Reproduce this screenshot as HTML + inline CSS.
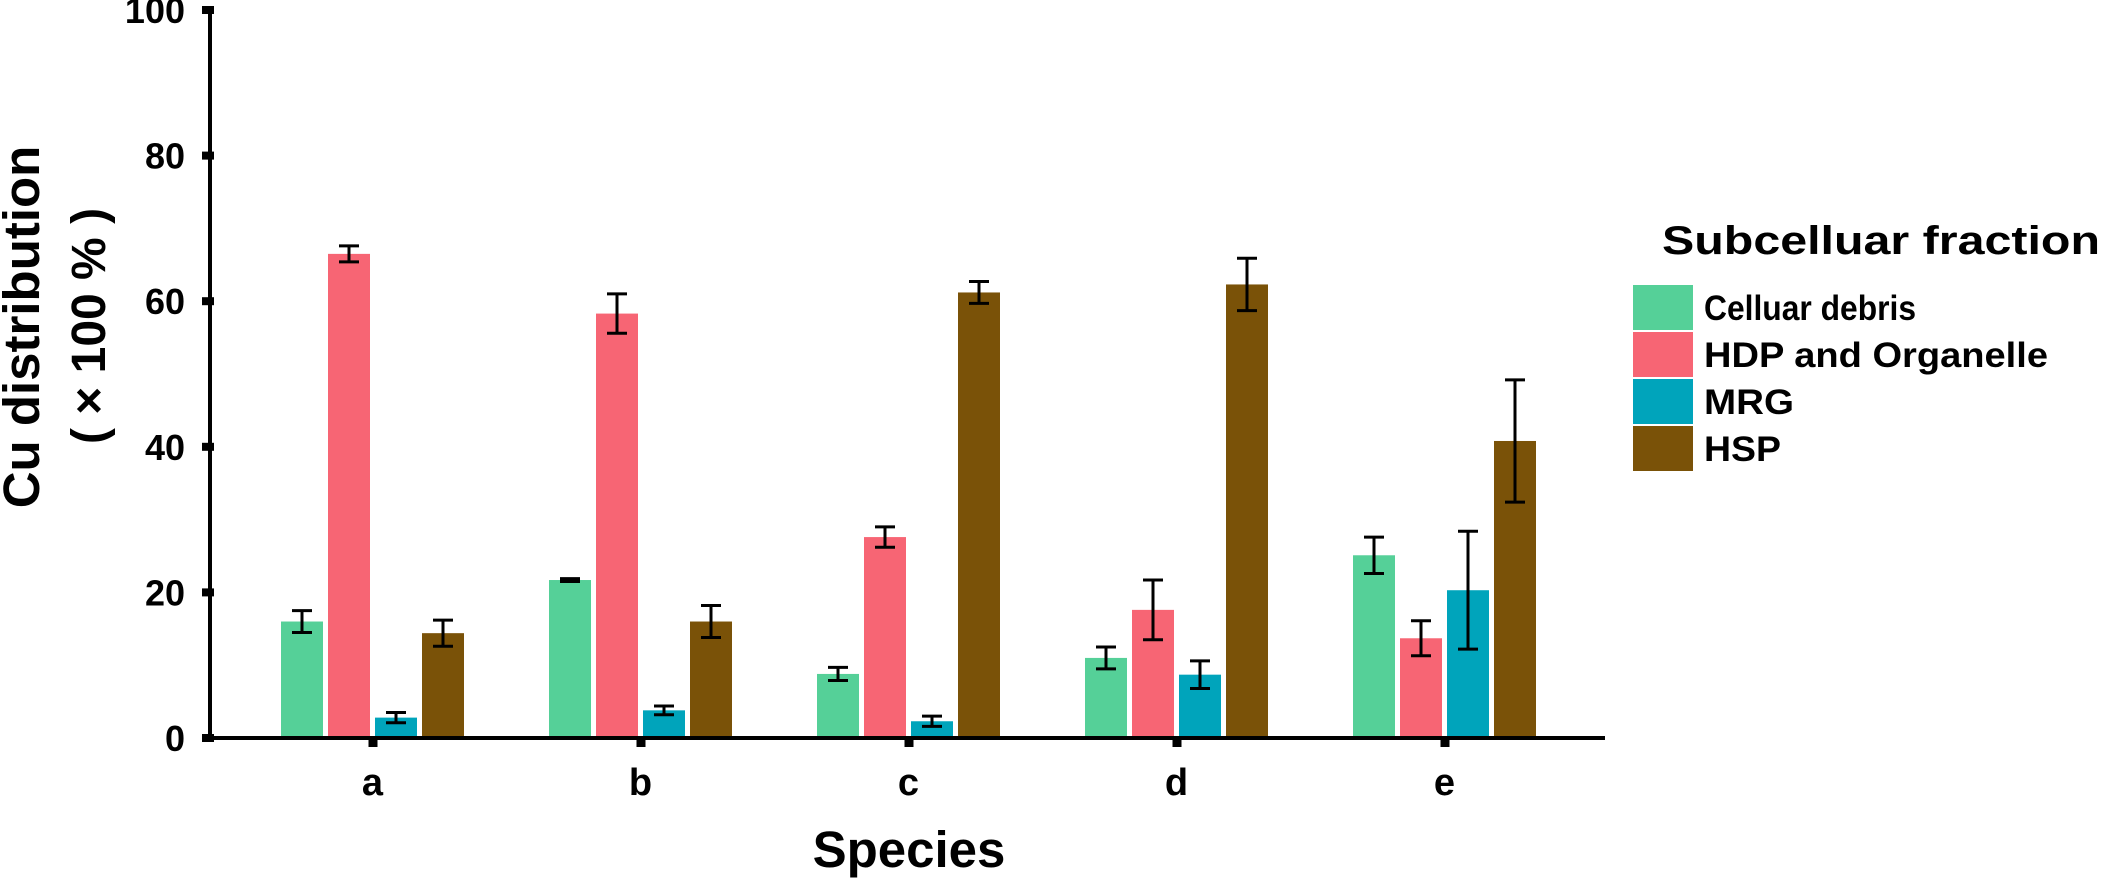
<!DOCTYPE html>
<html><head><meta charset="utf-8"><style>
html,body{margin:0;padding:0;background:#fff;}
svg{display:block;font-family:"Liberation Sans",Arial,sans-serif;font-weight:bold;}
</style></head><body>
<svg id="chart" width="2102" height="878" viewBox="0 0 2102 878">
<g id="plot"></g>
<g id="legend"></g>
</svg>
<script>
const categories = ["a","b","c","d","e"];
const seriesNames = ["Celluar debris","HDP and Organelle","MRG","HSP"];
const debris = [16.0, 21.7, 8.8, 11.0, 25.1];
const debrisErr = [1.5, 0.2, 0.9, 1.5, 2.5];
const hdp = [66.5, 58.3, 27.6, 17.6, 13.7];
const hdpErr = [1.1, 2.7, 1.4, 4.1, 2.4];
const mrg = [2.8, 3.8, 2.3, 8.7, 20.3];
const mrgErr = [0.7, 0.6, 0.7, 1.9, 8.1];
const hsp = [14.4, 16.0, 61.2, 62.3, 40.8];
const hspErr = [1.8, 2.2, 1.5, 3.6, 8.4];
const yTicks = [0,20,40,60,80,100];

const colors = ["#55d098","#f76574","#00a4bb","#7a5208"];
const values = [debris,hdp,mrg,hsp];
const errs = [debrisErr,hdpErr,mrgErr,hspErr];
const NS="http://www.w3.org/2000/svg";
const plot=document.getElementById('plot');
const x0=210, x1=1605, yBase=738, yTop=10, gStart=372.5, gStep=268, barW=42, barStep=47;
function y(v){return yBase-(v/100)*(yBase-yTop);}
function xc(i){return gStart+i*gStep;}
function mk(tag,attrs,parent){const e=document.createElementNS(NS,tag);for(const k in attrs)e.setAttribute(k,attrs[k]);(parent||plot).appendChild(e);return e;}

values.forEach((arr,s)=>{
  arr.forEach((v,i)=>{
    const bx=xc(i)-2*barStep+s*barStep+(barStep-barW)/2;
    const r=mk('rect',{x:bx,y:y(v),width:barW,height:yBase-y(v),fill:colors[s]});
    
    
    const cx=bx+barW/2, e=errs[s][i];
    const g=mk('g',{stroke:'#000','stroke-width':3});
    
    
    mk('line',{x1:cx,x2:cx,y1:y(v+e),y2:y(v-e)},g);
    mk('line',{x1:cx-10,x2:cx+10,y1:y(v+e),y2:y(v+e)},g);
    mk('line',{x1:cx-10,x2:cx+10,y1:y(v-e),y2:y(v-e)},g);
  });
});
const ya=mk('line',{x1:x0,x2:x0,y1:yTop-2,y2:yBase+2,stroke:'#000','stroke-width':4});

const xa=mk('line',{x1:x0,x2:x1,y1:yBase,y2:yBase,stroke:'#000','stroke-width':4});

yTicks.forEach(t=>{
  const tk=mk('rect',{x:x0-8,y:y(t)-4,width:12,height:8,fill:'#000'});
  
  const tx=mk('text',{x:185,y:y(t)+13,'text-anchor':'end','font-size':36});
  tx.textContent=t;
  
});
categories.forEach((c,i)=>{
  const tk=mk('rect',{x:xc(i)-4,y:yBase,width:9,height:9,fill:'#000'});
  
  const tx=mk('text',{x:xc(i),y:795,'text-anchor':'middle','font-size':38});
  tx.textContent=c;
  
});
const xt=mk('text',{x:909,y:867,'text-anchor':'middle','font-size':51});
xt.textContent='Species';

const yt=mk('text',{transform:'translate(39,327) rotate(-90)','text-anchor':'middle','font-size':51});
yt.textContent='Cu distribution';

const yt2=mk('text',{transform:'translate(105,326) rotate(-90)','text-anchor':'middle','font-size':48});
yt2.textContent='( × 100 % )';


const lg=document.getElementById('legend');
const lt=mk('text',{x:1662,y:254,'font-size':40,textLength:438,lengthAdjust:'spacingAndGlyphs'},lg);
lt.textContent='Subcelluar fraction';

const lw=[212,344,90,77];
seriesNames.forEach((n,s)=>{
  const top=285+s*47;
  const sw=mk('rect',{x:1633,y:top,width:60,height:45,fill:colors[s]},lg);
  
  const t=mk('text',{x:1704,y:top+35,'font-size':35,textLength:lw[s],lengthAdjust:'spacingAndGlyphs'},lg);
  t.textContent=n;
  
});
</script>
</body></html>
